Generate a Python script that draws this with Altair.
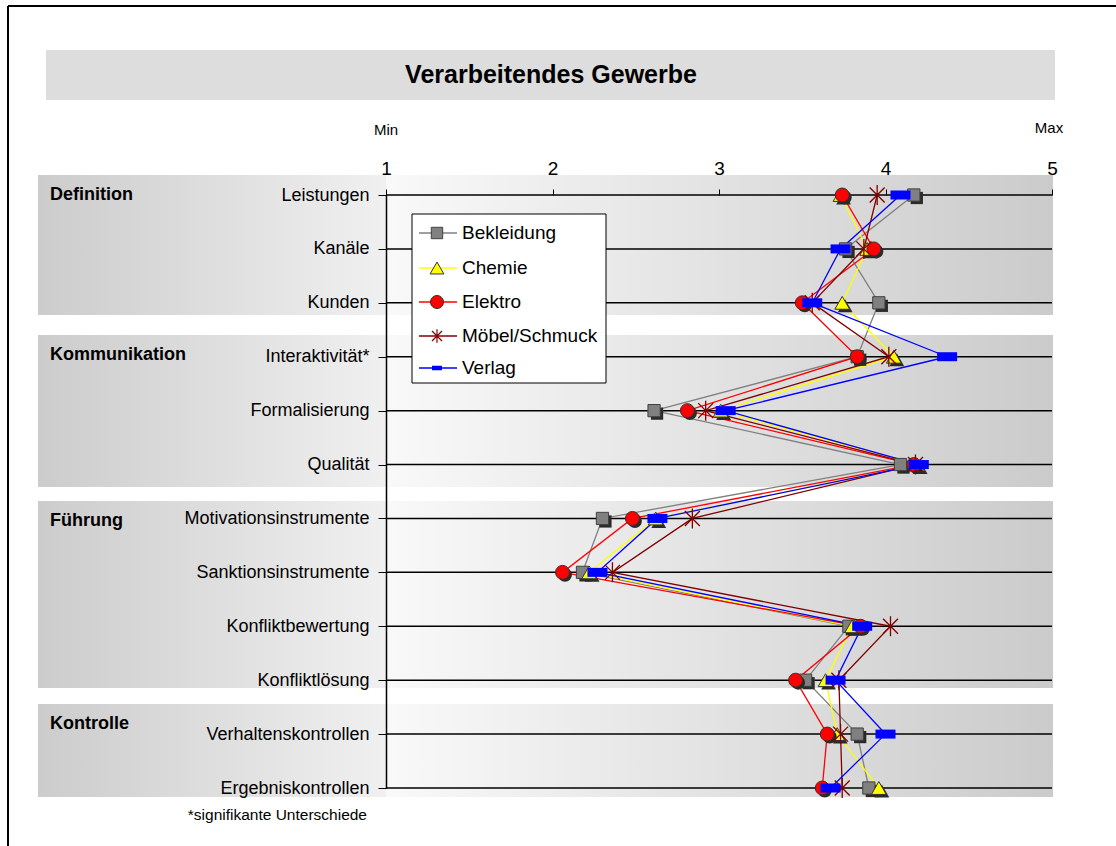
import altair as alt
import pandas as pd

FONT = "Liberation Sans"

# Items (rows) and the group each block of rows belongs to
items = [
    "Leistungen", "Kanäle", "Kunden",
    "Interaktivität*", "Formalisierung", "Qualität",
    "Motivationsinstrumente", "Sanktionsinstrumente", "Konfliktbewertung", "Konfliktlösung",
    "Verhaltenskontrollen", "Ergebniskontrollen",
]
groups = ["Definition", "Kommunikation", "Führung", "Kontrolle"]

series = ["Bekleidung", "Chemie", "Elektro", "Möbel/Schmuck", "Verlag"]

# Mean ratings (1 = Min, 5 = Max) per item
bekleidung = [4.17, 3.76, 3.96, 3.83, 2.61, 4.09, 2.30, 2.18, 3.78, 3.52, 3.83, 3.90]
chemie     = [3.73, 3.89, 3.74, 4.05, 3.01, 4.19, 2.62, 2.22, 3.80, 3.64, 3.71, 3.96]
elektro    = [3.74, 3.93, 3.50, 3.83, 2.81, 4.17, 2.48, 2.06, 3.85, 3.46, 3.65, 3.62]
moebel     = [3.95, 3.87, 3.56, 4.02, 2.92, 4.18, 2.84, 2.36, 4.03, 3.72, 3.73, 3.74]
verlag     = [4.09, 3.73, 3.56, 4.37, 3.04, 4.20, 2.63, 2.27, 3.86, 3.70, 4.00, 3.67]

x_ticks = [1, 2, 3, 4, 5]

values_by_series = dict(zip(series, [bekleidung, chemie, elektro, moebel, verlag]))
rows = []
for s in series:
    for i, (item, v) in enumerate(zip(items, values_by_series[s])):
        rows.append({"series": s, "item": item, "idx": i, "value": v})
df = pd.DataFrame(rows)
items_df = pd.DataFrame({"item": items})
one = pd.DataFrame({"k": [0]})

# ---- layout (pixels, relative to the plot origin) ----
W, H = 666, 593
line_colors = ["#808080", "#ffff00", "#ff0000", "#800000", "#0000ff"]

STAR = "M0,-1L0,1M-0.75,-0.75L0.75,0.75M-0.75,0.75L0.75,-0.75"
BAR = "M-1,-0.45L1,-0.45L1,0.45L-1,0.45Z"

# axes sit above the shaded bands (zindex 1); the top row rule doubles as the x domain
x_axis = alt.Axis(orient="top", values=x_ticks, format="d", title=None, grid=False, domain=False,
                  labelFont=FONT, labelFontSize=19, labelColor="black", labelPadding=15,
                  labelBaseline="alphabetic", labelFlush=False,
                  tickColor="black", tickSize=6, tickWidth=1, zindex=1)
y_axis = alt.Axis(orient="left", title=None, grid=False,
                  labelFont=FONT, labelFontSize=18, labelColor="black", labelPadding=9,
                  labelLimit=400, tickColor="black", tickSize=8, tickWidth=1,
                  domainColor="black", domainWidth=1.5, zindex=1)

X = alt.X("value:Q", scale=alt.Scale(domain=[1, 5], nice=False, zero=False), axis=x_axis)
Y = alt.Y("item:N", sort=items, scale=alt.Scale(type="point", padding=0), axis=y_axis)


def grad(c0, c1):
    return alt.LinearGradient(gradient="linear", x1=0, x2=1, y1=0, y2=0,
                              stops=[alt.GradientStop(color=c0, offset=0),
                                     alt.GradientStop(color=c1, offset=1)])


def rect(x0, x1, y0, y1, **kw):
    return alt.Chart(one).mark_rect(**kw).encode(
        x=alt.value(x0), x2=alt.value(x1), y=alt.value(y0), y2=alt.value(y1))


def text(x, y, s, **kw):
    return alt.Chart(one).mark_text(text=s, font=FONT, color="black", **kw).encode(
        x=alt.value(x), y=alt.value(y))


layers = []

# page frame (top and left edges)
layers.append(alt.Chart(one).mark_rule(color="black", strokeWidth=2).encode(
    x=alt.value(-378), x2=alt.value(730), y=alt.value(-189)))
layers.append(alt.Chart(one).mark_rule(color="black", strokeWidth=2).encode(
    x=alt.value(-378), y=alt.value(-189), y2=alt.value(660)))

# title band
layers.append(rect(-340, 669, -145, -95, fill="#dddddd"))
layers.append(text(165, -120, "Verarbeitendes Gewerbe", fontSize=25, fontWeight="bold",
                   align="center", baseline="middle"))

# shaded group bands: label column + plot column
bands = [(-20, 120), (140, 292), (306, 493), (509, 602)]
for y0, y1 in bands:
    layers.append(rect(-348, 0, y0, y1, fill=grad("#cccccc", "#f0f0f0")))
    layers.append(rect(0, W + 1, y0, y1, fill=grad("#f9f9f9", "#cbcbcb")))

# group labels
group_baselines = [5, 165, 331, 534]
for g, yb in zip(groups, group_baselines):
    layers.append(text(-336, yb, g, fontSize=18, fontWeight="bold", align="left",
                       baseline="alphabetic"))

# scale end captions
layers.append(text(0, -65, "Min", fontSize=15, align="center", baseline="middle"))
layers.append(text(663, -67, "Max", fontSize=15, align="center", baseline="middle"))

# row lines
layers.append(alt.Chart(items_df).mark_rule(color="black", strokeWidth=1.5).encode(
    y=Y, x=alt.value(0), x2=alt.value(W)))

# series lines
layers.append(alt.Chart(df).mark_line(strokeWidth=1.3).encode(
    x=X, y=Y,
    color=alt.Color("series:N", scale=alt.Scale(domain=series, range=line_colors), legend=None),
    order=alt.Order("idx:Q"),
))


def pts(name):
    return alt.Chart(df).transform_filter(alt.datum.series == name)


SH = "#2a2a2a"
# Bekleidung: grey squares with drop shadow
layers.append(pts("Bekleidung").mark_square(size=150, color=SH, opacity=1, xOffset=3, yOffset=3).encode(x=X, y=Y))
layers.append(pts("Bekleidung").mark_square(size=150, color="#808080", stroke="#404040", strokeWidth=1, opacity=1).encode(x=X, y=Y))
# Chemie: yellow triangles
layers.append(pts("Chemie").mark_point(shape="triangle-up", size=220, filled=True, color=SH, opacity=1, xOffset=3, yOffset=3).encode(x=X, y=Y))
layers.append(pts("Chemie").mark_point(shape="triangle-up", size=220, filled=True, color="#ffff00", stroke="#333333", strokeWidth=1, opacity=1).encode(x=X, y=Y))
# Elektro: red circles
layers.append(pts("Elektro").mark_circle(size=195, color=SH, opacity=1, xOffset=2.5, yOffset=2.5).encode(x=X, y=Y))
layers.append(pts("Elektro").mark_circle(size=195, color="#ff0000", stroke="#333333", strokeWidth=1, opacity=1).encode(x=X, y=Y))
# Möbel/Schmuck: dark red asterisks
layers.append(pts("Möbel/Schmuck").mark_point(shape=STAR, size=400, filled=False, color="#800000", strokeWidth=1.3, opacity=1).encode(x=X, y=Y))
# Verlag: blue bars
layers.append(pts("Verlag").mark_point(shape=BAR, size=400, filled=True, color="#0000ff", opacity=1).encode(x=X, y=Y))

# legend box
layers.append(rect(26, 220, 19, 188, fill="white", stroke="black", strokeWidth=1))
leg_y = [38, 73, 107, 141, 173]
leg_marks = [
    dict(shape="square", size=130, filled=True, color="#808080", stroke="#404040", strokeWidth=1),
    dict(shape="triangle-up", size=190, filled=True, color="#ffff00", stroke="#333333", strokeWidth=1),
    dict(shape="circle", size=170, filled=True, color="#ff0000", stroke="#333333", strokeWidth=1),
    dict(shape=STAR, size=180, filled=False, color="#800000", strokeWidth=1.2),
    dict(shape=BAR, size=100, filled=True, color="#0000ff"),
]
for s, col, yy, mk in zip(series, line_colors, leg_y, leg_marks):
    layers.append(alt.Chart(one).mark_rule(color=col, strokeWidth=1.3).encode(
        x=alt.value(33), x2=alt.value(71), y=alt.value(yy)))
    layers.append(alt.Chart(one).mark_point(opacity=1, **mk).encode(
        x=alt.value(51), y=alt.value(yy)))
    layers.append(text(76, yy, s, fontSize=19, align="left", baseline="middle"))

# footnote
layers.append(text(-19, 625, "*signifikante Unterschiede", fontSize=15.5, align="right",
                   baseline="alphabetic"))

chart = alt.layer(*layers).properties(
    width=W, height=H,
    padding={"left": 386, "top": 195, "right": 64, "bottom": 58},
    autosize=alt.AutoSizeParams(type="none"),
    background="white",
).configure_view(strokeWidth=0)

chart.save("out.html", embed_options={"renderer": "svg", "actions": False})
